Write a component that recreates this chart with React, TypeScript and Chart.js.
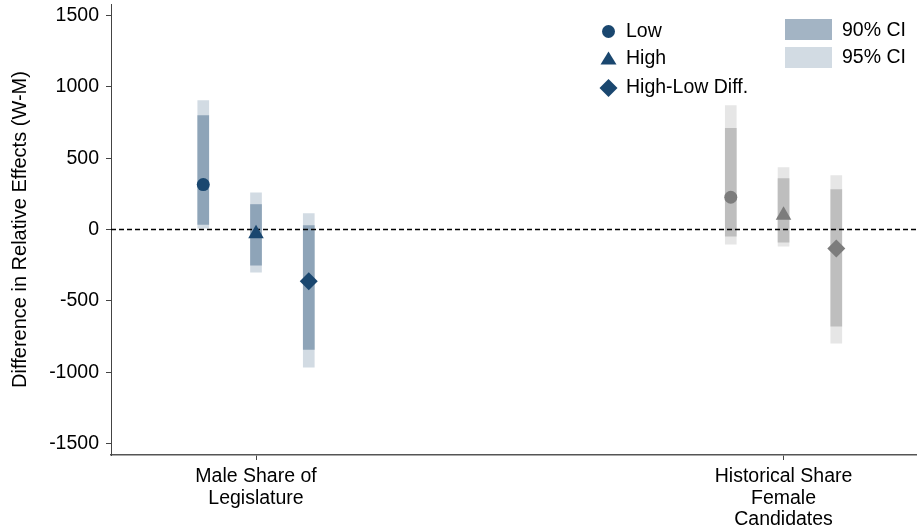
import React, { useEffect, useRef } from "react";
import { Chart, registerables } from "chart.js";
Chart.register(...registerables);

const FONT = "'Liberation Sans', Arial, Helvetica, sans-serif";

// categories
const groupLabels: string[][] = [["Male Share of", "Legislature"], ["Historical Share", "Female", "Candidates"]];
const groupPositions = [1, 2];
const estimateNames = ["Low", "High", "High-Low Diff."];
const estimateOffsets = [-0.1, 0, 0.1];
const yTickValues = [-1500, -1000, -500, 0, 500, 1000, 1500];

// Male Share of Legislature
const maleEstimate = [315, -30, -362];
const male90Low = [35, -250, -840];
const male90High = [798, 175, 28];
const male95Low = [10, -299, -964];
const male95High = [903, 257, 112];

// Historical Share Female Candidates
const histEstimate = [226, 100, -133];
const hist90Low = [-47, -89, -677];
const hist90High = [709, 357, 280];
const hist95Low = [-103, -117, -796];
const hist95High = [868, 434, 378];

const X_MIN = 0.7251;
const X_MAX = 2.253;

const NAVY = "#1a476f";
const NAVY90 = "#8ea4b8";
const NAVY95 = "#d2dbe3";
const GRAY = "#7c7c7c";
const GRAY90 = "#bebebe";
const GRAY95 = "#e6e6e6";
const LEG90 = "#a3b4c4";
const LEG95 = "#d2dbe3";

const pointStyles = ["circle", "triangle", "rectRot"];
const pointRadii = [6.5, 9, 9];

function barData(center: number, lo: number[], hi: number[]) {
  return lo.map((l, i) => ({ x: center + estimateOffsets[i], y: [l, hi[i]] }));
}

const legendPlugin = {
  id: "customLegend",
  afterDraw(chart: any) {
    const ctx = chart.ctx;
    ctx.save();
    ctx.font = `19.5px ${FONT}`;
    ctx.textBaseline = "middle";
    ctx.textAlign = "left";
    const ys = [31.5, 58.5, 88];
    ctx.fillStyle = NAVY;
    const mx = 608.5;
    ctx.beginPath();
    ctx.arc(mx, ys[0], 6.5, 0, Math.PI * 2);
    ctx.fill();
    ctx.beginPath();
    ctx.moveTo(mx, ys[1] - 7);
    ctx.lineTo(mx + 8, ys[1] + 6);
    ctx.lineTo(mx - 8, ys[1] + 6);
    ctx.closePath();
    ctx.fill();
    ctx.beginPath();
    ctx.moveTo(mx, ys[2] - 9);
    ctx.lineTo(mx + 9, ys[2]);
    ctx.lineTo(mx, ys[2] + 9);
    ctx.lineTo(mx - 9, ys[2]);
    ctx.closePath();
    ctx.fill();
    ctx.fillStyle = "#000";
    estimateNames.forEach((n, i) => ctx.fillText(n, 626, ys[i]));
    ctx.fillStyle = LEG90;
    ctx.fillRect(785, 19, 47, 21);
    ctx.fillStyle = LEG95;
    ctx.fillRect(785, 47, 47, 21);
    ctx.fillStyle = "#000";
    ctx.fillText("90% CI", 842, 30.5);
    ctx.fillText("95% CI", 842, 58);
    ctx.restore();
  },
};

export default function App() {
  const ref = useRef<HTMLCanvasElement | null>(null);
  useEffect(() => {
    if (!ref.current) return;
    Chart.defaults.font.family = FONT;
    const datasets: any[] = [];
    const groups = [
      { c: groupPositions[0], est: maleEstimate, l90: male90Low, h90: male90High, l95: male95Low, h95: male95High, col: NAVY, c90: NAVY90, c95: NAVY95 },
      { c: groupPositions[1], est: histEstimate, l90: hist90Low, h90: hist90High, l95: hist95Low, h95: hist95High, col: GRAY, c90: GRAY90, c95: GRAY95 },
    ];
    groups.forEach((g) => {
      datasets.push({
        type: "bar",
        data: barData(g.c, g.l95, g.h95),
        backgroundColor: g.c95,
        borderWidth: 0,
        barThickness: 11,
        grouped: false,
        order: 3,
      });
      datasets.push({
        type: "bar",
        data: barData(g.c, g.l90, g.h90),
        backgroundColor: g.c90,
        borderWidth: 0,
        barThickness: 11,
        grouped: false,
        order: 2,
      });
      g.est.forEach((v, i) => {
        datasets.push({
          type: "scatter",
          data: [{ x: g.c + estimateOffsets[i], y: v }],
          pointStyle: pointStyles[i],
          pointRadius: pointRadii[i],
          backgroundColor: g.col,
          borderColor: g.col,
          borderWidth: 0,
          order: 0,
        });
      });
    });
    datasets.push({
      type: "line",
      data: [{ x: X_MIN, y: 0 }, { x: X_MAX, y: 0 }],
      borderColor: "#000",
      borderWidth: 1.5,
      borderDash: [5, 3],
      pointRadius: 0,
      order: 1,
    });

    const chart = new Chart(ref.current, {
      type: "bar",
      data: { datasets },
      options: {
        responsive: false,
        animation: false,
        events: [],
        layout: { autoPadding: false, padding: { top: 4, left: 0, right: 0, bottom: 0 } },
        plugins: { legend: { display: false }, tooltip: { enabled: false } },
        scales: {
          x: {
            type: "linear",
            min: X_MIN,
            max: X_MAX,
            offset: false,
            afterBuildTicks: (s: any) => {
              s.ticks = groupPositions.map((v) => ({ value: v }));
            },
            afterFit: (s: any) => {
              s.height = 76;
              s.paddingLeft = 0;
              s.paddingRight = 0;
            },
            grid: { offset: false, drawOnChartArea: false, drawTicks: true, tickLength: 5, color: "#444" },
            border: { display: true, color: "#555", width: 1.5 },
            ticks: {
              autoSkip: false,
              maxRotation: 0,
              color: "#000",
              padding: 6,
              font: { size: 19.5, lineHeight: 1.1 },
              callback: (v: any) => {
                const idx = groupPositions.indexOf(Number(v));
                return idx >= 0 ? groupLabels[idx] : "";
              },
            },
          },
          y: {
            type: "linear",
            min: -1580,
            max: 1580,
            afterBuildTicks: (s: any) => {
              s.ticks = yTickValues.map((v) => ({ value: v }));
            },
            afterFit: (s: any) => {
              s.width = 111;
              s.paddingTop = 0;
              s.paddingBottom = 0;
            },
            grid: { drawOnChartArea: false, drawTicks: true, tickLength: 5, color: "#444" },
            border: { display: true, color: "#444", width: 1 },
            ticks: { color: "#000", padding: 7, font: { size: 19.5 }, callback: (v: any) => String(v) },
            title: {
              display: true,
              text: "Difference in Relative Effects (W-M)",
              color: "#000",
              font: { size: 20 },
              padding: { top: 8, bottom: 0 },
            },
          },
        },
      },
      plugins: [legendPlugin],
    } as any);
    return () => chart.destroy();
  }, []);
  return (
    <div style={{ position: "fixed", left: 0, top: 0, width: 917, height: 531, background: "#fff" }}>
      <canvas ref={ref} width={917} height={531} />
    </div>
  );
}
